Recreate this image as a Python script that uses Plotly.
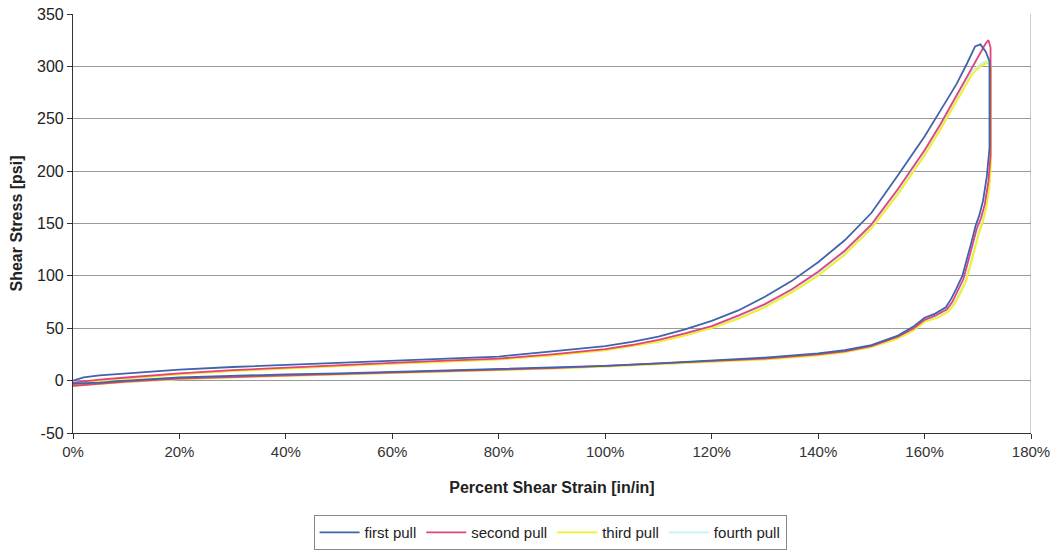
import plotly.graph_objects as go

# Shear strain (fraction) and shear stress (psi) for each pull: loading branch
# followed by the unloading branch back to zero strain.
first_strain = [0.00, 0.02, 0.05, 0.10, 0.20, 0.30, 0.40, 0.50, 0.60, 0.70, 0.80, 0.90,
                1.00, 1.05, 1.10, 1.15, 1.20, 1.25, 1.30, 1.35, 1.40, 1.45, 1.50, 1.55,
                1.60, 1.63, 1.66, 1.68, 1.695, 1.705, 1.715, 1.722,
                1.722, 1.717, 1.71, 1.703, 1.696, 1.688, 1.68, 1.671, 1.66, 1.65, 1.64,
                1.62, 1.60, 1.58, 1.55, 1.50, 1.45, 1.40, 1.30, 1.20, 1.10, 1.00, 0.90,
                0.80, 0.70, 0.60, 0.50, 0.40, 0.30, 0.20, 0.10, 0.05, 0.00]
first_stress = [0, 3, 5, 7, 10.5, 13, 15, 17, 19, 21, 23, 28,
                33, 37, 42, 49, 57, 67, 80, 95, 113, 134, 160, 196,
                233, 258, 283, 303, 319, 321, 314, 305,
                222, 195, 172, 158, 148, 132, 118, 100, 88, 78, 70,
                64, 60, 52, 43, 34, 29, 26, 22, 19, 16.5, 14, 12.5,
                11, 9.5, 8.5, 7, 6, 4.5, 3, 0, -2, -3]

second_strain = [0.00, 0.05, 0.10, 0.20, 0.30, 0.40, 0.50, 0.60, 0.70, 0.80, 0.90, 1.00,
                 1.05, 1.10, 1.15, 1.20, 1.25, 1.30, 1.35, 1.40, 1.45, 1.50, 1.55, 1.60,
                 1.63, 1.66, 1.69, 1.705, 1.715, 1.72, 1.724,
                 1.724, 1.72, 1.713, 1.706, 1.698, 1.69, 1.682, 1.673, 1.662, 1.652, 1.642,
                 1.62, 1.60, 1.58, 1.55, 1.50, 1.45, 1.40, 1.30, 1.20, 1.10, 1.00, 0.90,
                 0.80, 0.70, 0.60, 0.50, 0.40, 0.30, 0.20, 0.10, 0.05, 0.00]
second_stress = [-2, 1, 3, 7, 10, 12.5, 15, 17, 19, 21, 25, 30,
                 34, 39, 45, 52, 62, 73, 87, 104, 124, 149, 183, 220,
                 245, 272, 300, 313, 322, 325, 318,
                 215, 190, 168, 155, 145, 128, 114, 97, 85, 75, 68,
                 62, 58, 50, 42, 33, 28, 25, 21, 18.5, 16, 14, 12,
                 10.5, 9, 8, 6.5, 5, 3.5, 2, -1, -3, -5]

third_strain = [0.00, 0.05, 0.10, 0.20, 0.30, 0.40, 0.50, 0.60, 0.70, 0.80, 0.90, 1.00,
                1.05, 1.10, 1.15, 1.20, 1.25, 1.30, 1.35, 1.40, 1.45, 1.50, 1.55, 1.60,
                1.63, 1.66, 1.69, 1.705, 1.715, 1.72, 1.725,
                1.725, 1.722, 1.716, 1.71, 1.703, 1.695, 1.687, 1.678, 1.667, 1.656, 1.645,
                1.625, 1.60, 1.58, 1.55, 1.50, 1.45, 1.40, 1.30, 1.20, 1.10, 1.00, 0.90,
                0.80, 0.70, 0.60, 0.50, 0.40, 0.30, 0.20, 0.10, 0.05, 0.00]
third_stress = [-4, 0, 2, 6, 9, 11.5, 14, 16, 18, 20, 24, 29,
                33, 37, 43, 50, 59, 70, 84, 100, 120, 145, 178, 215,
                240, 267, 293, 300, 303, 303, 300,
                210, 185, 165, 152, 142, 125, 111, 95, 83, 73, 66,
                60, 56, 48, 40, 32, 27, 24, 20, 18, 15.5, 13.5, 11.5,
                10, 8.5, 7.5, 6, 4.5, 3, 1.5, -1.5, -3.5, -5]

fourth_strain = [0.00, 0.05, 0.10, 0.20, 0.30, 0.40, 0.50, 0.60, 0.70, 0.80, 0.90, 1.00,
                 1.05, 1.10, 1.15, 1.20, 1.25, 1.30, 1.35, 1.40, 1.45, 1.50, 1.55, 1.60,
                 1.63, 1.66, 1.69, 1.705, 1.715, 1.72, 1.724,
                 1.724, 1.721, 1.715, 1.709, 1.702, 1.694, 1.686, 1.677, 1.666, 1.655, 1.644,
                 1.623, 1.60, 1.58, 1.55, 1.50, 1.45, 1.40, 1.30, 1.20, 1.10, 1.00, 0.90,
                 0.80, 0.70, 0.60, 0.50, 0.40, 0.30, 0.20, 0.10, 0.05, 0.00]
fourth_stress = [-4, 0, 2.5, 6.5, 9.5, 12, 14.5, 16.5, 18.5, 20.5, 24.5, 29.5,
                 33.5, 38, 44, 51, 60, 71, 85, 102, 122, 147, 180, 217,
                 242, 269, 296, 302, 305, 305, 302,
                 212, 187, 166, 153, 143, 126, 112, 96, 84, 74, 67,
                 61, 57, 49, 41, 32.5, 27.5, 24.5, 20.5, 18, 15.5, 13.5, 11.5,
                 10, 8.5, 7.5, 6, 4.5, 3, 1.5, -1.5, -3.5, -5]

# Axis tick labels
stress_ticks = [-50, 0, 50, 100, 150, 200, 250, 300, 350]
stress_labels = ["-50", "0", "50", "100", "150", "200", "250", "300", "350"]
strain_ticks = [0.0, 0.2, 0.4, 0.6, 0.8, 1.0, 1.2, 1.4, 1.6, 1.8]
strain_labels = ["0%", "20%", "40%", "60%", "80%", "100%", "120%", "140%", "160%", "180%"]

series = [
    ("first pull", first_strain, first_stress, "#4262aa"),
    ("second pull", second_strain, second_stress, "#e2437f"),
    ("third pull", third_strain, third_stress, "#f2f020"),
    ("fourth pull", fourth_strain, fourth_stress, "#c4f0f6"),
]

FONT = "Liberation Sans, Arial, sans-serif"

fig = go.Figure()
# Draw from last to first so the first pull sits on top; legend order reversed back
for name, xs, ys, color in reversed(series):
    fig.add_trace(go.Scatter(
        x=xs, y=ys, mode="lines", name=name,
        line=dict(color=color, width=1.8),
    ))

fig.update_layout(
    width=1058, height=553,
    margin=dict(l=73, r=27, t=14, b=120, autoexpand=False),
    paper_bgcolor="white", plot_bgcolor="white",
    font=dict(family=FONT, size=15, color="#222222"),
    showlegend=True,
    legend=dict(
        orientation="h", traceorder="reversed",
        x=0.498, xanchor="center", y=-0.238, yanchor="middle",
        bordercolor="#888888", borderwidth=1,
        font=dict(family=FONT, size=15, color="#222222"),
        itemwidth=40,
    ),
)

fig.update_xaxes(
    range=[0, 1.8], tickvals=strain_ticks, ticktext=strain_labels,
    showgrid=False, zeroline=False,
    showline=True, linecolor="#333333", linewidth=1.2,
    ticks="outside", ticklen=5, tickcolor="#333333",
    tickfont=dict(family=FONT, size=15, color="#333333"),
    title=dict(text="<b>Percent Shear Strain [in/in]</b>",
               font=dict(family=FONT, size=16, color="#222222"), standoff=22),
)
fig.update_yaxes(
    range=[-50, 350], tickvals=stress_ticks, ticktext=stress_labels,
    showgrid=True, gridcolor="#9a9a9a", gridwidth=1,
    zeroline=False,
    showline=True, linecolor="#333333", linewidth=1.2,
    ticks="outside", ticklen=5, tickcolor="#333333",
    tickfont=dict(family=FONT, size=16, color="#222222"),
    title=dict(text="<b>Shear Stress [psi]</b>",
               font=dict(family=FONT, size=16, color="#222222"), standoff=10),
)

# Right-hand frame edge of the plot area
fig.add_shape(type="line", xref="x", yref="y", x0=1.8, x1=1.8, y0=-50, y1=350,
              line=dict(color="#9a9a9a", width=1))

fig.write_html("out.html")
